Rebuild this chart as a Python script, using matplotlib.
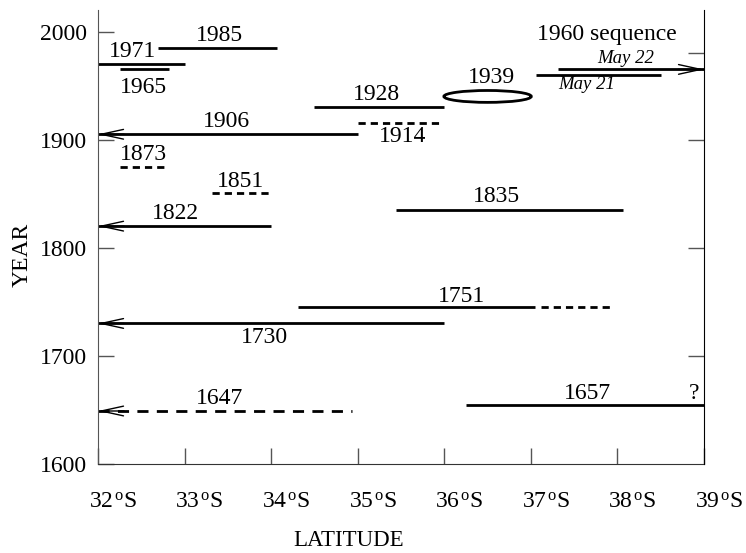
import matplotlib.pyplot as plt
from matplotlib.patches import Ellipse
from matplotlib.transforms import ScaledTranslation

plt.rcParams["font.family"] = "Liberation Serif"
plt.rcParams["mathtext.fontset"] = "custom"
plt.rcParams["mathtext.rm"] = "Liberation Serif"
plt.rcParams["mathtext.it"] = "Liberation Serif:italic"

# event ranges: year drawn and latitude span (deg S)
event_year = [1985, 1970, 1965, 1930, 1915, 1905, 1875, 1851, 1834.5,
              1820, 1745, 1745, 1730, 1649, 1655, 1960, 1965]
event_lat_from = [32.69, 32.0, 32.25, 34.5, 35.0, 32.0, 32.25, 33.32, 35.44,
                  32.0, 34.31, 37.12, 32.0, 32.0, 36.25, 37.06, 37.31]
event_lat_to = [34.07, 33.0, 32.82, 36.0, 35.95, 35.0, 32.76, 34.0, 38.06,
                34.0, 37.05, 37.95, 36.0, 34.93, 39.0, 38.5, 39.0]
event_style = ["-", "-", "-", "-", "fine", "-", "fine", "fine", "-",
               "-", "-", "fine", "-", "coarse", "-", "-", "-"]
event_arrow = [None, None, None, None, None, "left", None, None, None,
               "left", None, None, "left", "left", None, None, "right"]

# 1939 event drawn as an ellipse
ell_lat, ell_year, ell_w, ell_h = 36.5, 1940, 1.01, 11

label_text = ["1985", "1971", "1965", "1928", "1914", "1906", "1873", "1851",
              "1835", "1822", "1751", "1730", "1647", "1657", "1939", "?",
              "1960 sequence"]
label_lat = [33.40, 32.40, 32.53, 35.22, 35.52, 33.48, 32.53, 33.65,
             36.60, 32.90, 36.20, 33.92, 33.40, 37.65, 36.54, 38.88, 37.88]
label_year = [1996.3, 1981.5, 1948, 1941.7, 1902.8, 1916.7, 1886, 1861,
              1847, 1832, 1754.6, 1716.7, 1661, 1664.8, 1957.4, 1664.8, 1997]

date_text = ["May 22", "May 21"]
date_lat = [38.09, 37.65]
date_year = [1975, 1951]

lat_ticks = [32, 33, 34, 35, 36, 37, 38, 39]
year_ticks = [1600, 1700, 1800, 1900, 2000]
right_ticks = [1700, 1800, 1900, 1980]

dash_map = {"-": "-", "fine": (0, (2.6, 1.8)), "coarse": (0, (4, 3))}

fig = plt.figure(figsize=(7.46, 5.53), dpi=100)
ax = fig.add_axes([0.1314, 0.161, 0.8123, 0.821])

for y, x0, x1, st, arr in zip(event_year, event_lat_from, event_lat_to,
                              event_style, event_arrow):
    ax.plot([x0, x1], [y, y], color="black", lw=2.0, linestyle=dash_map[st],
            solid_capstyle="butt", clip_on=False)
    if arr is not None:
        tip = x0 if arr == "left" else x1
        tail = tip + 0.3 if arr == "left" else tip - 0.3
        ax.annotate("", xy=(tip, y), xytext=(tail, y), annotation_clip=False,
                    arrowprops=dict(arrowstyle="->,head_length=1.6,head_width=0.35",
                                    lw=1.0, color="black", shrinkA=0, shrinkB=0,
                                    mutation_scale=10))

ax.add_patch(Ellipse((ell_lat, ell_year), ell_w, ell_h, fill=False,
                     edgecolor="black", lw=2.0))

for t, x, y in zip(label_text, label_lat, label_year):
    ax.text(x, y, t, fontsize=17, ha="center", va="center")
for t, x, y in zip(date_text, date_lat, date_year):
    ax.text(x, y, t, fontsize=13.5, style="italic", ha="center", va="center")

ax.set_xlim(32, 39)
ax.set_ylim(1600, 2020)
ax.set_xticks(lat_ticks)
ax.set_xticklabels([r"%d$^{\,\rm o}$S" % v for v in lat_ticks])
ax.set_yticks(year_ticks)
ax.tick_params(axis="both", direction="in", length=11.5, width=1,
               color="#555555", labelsize=17)
ax.tick_params(axis="x", pad=20)
ax.tick_params(axis="y", pad=8)
for lab in ax.get_xticklabels():
    lab.set_transform(lab.get_transform() + ScaledTranslation(0.15, 0, fig.dpi_scale_trans))

ax.spines["top"].set_visible(False)
ax.spines["right"].set_visible(False)
ax.spines["left"].set_color("#555555")
ax.spines["bottom"].set_color("#333333")

ax2 = ax.twinx()
ax2.set_ylim(1600, 2020)
ax2.set_yticks(right_ticks)
ax2.tick_params(axis="y", direction="in", length=11.5, width=1,
                color="#555555", labelright=False)
for s in ["top", "left", "bottom"]:
    ax2.spines[s].set_visible(False)
ax2.spines["right"].set_color("black")

fig.text(22 / 746, 0.539, "YEAR", rotation=90, fontsize=17,
         ha="center", va="center")
fig.text(349 / 746, 0.0235, "LATITUDE", fontsize=16.5, ha="center", va="center")

fig.savefig("out.png", dpi=100)
